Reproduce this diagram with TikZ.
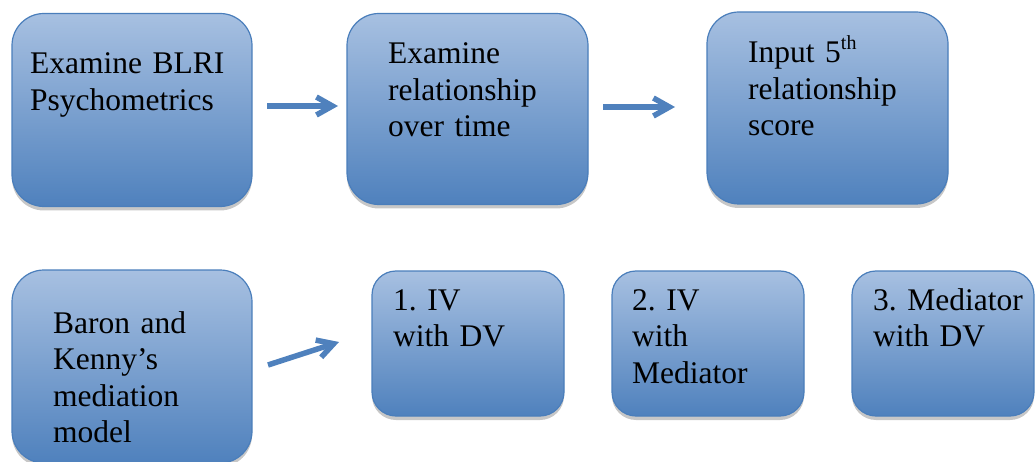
\documentclass[tikz,border=0pt]{standalone}
\usepackage{fontspec}
\setmainfont{Liberation Serif}
\usetikzlibrary{arrows.meta,shadows}
\definecolor{boxtop}{RGB}{167,192,225}
\definecolor{boxbot}{RGB}{79,129,189}
\definecolor{boxline}{RGB}{74,126,187}
\definecolor{arrowcol}{RGB}{79,129,189}
\frenchspacing
\newcommand{\supth}{\raisebox{13pt}{\fontsize{20}{20}\selectfont th}}
\tikzset{
  bigbox/.style={draw=boxline, line width=1.2pt, rounded corners=32pt,
    top color=boxtop, bottom color=boxbot, inner sep=0pt,
    drop shadow={shadow xshift=0pt, shadow yshift=-4pt, opacity=0.22, fill=black}},
  smallbox/.style={bigbox, rounded corners=24pt},
  txt/.style={anchor=base west, inner sep=0pt, text width=230pt, align=left,
    font=\fontsize{31.5}{36.5}\selectfont\frenchspacing},
  flow/.style={draw=arrowcol, line width=5.5pt,
    -{Straight Barb[length=16pt,width=18pt]}}
}
\begin{document}
\begin{tikzpicture}[x=1pt,y=-1pt]
\useasboundingbox (0,0) rectangle (1035,462);
% top row
\node[bigbox, minimum width=240pt, minimum height=193pt] (b1) at (132,110) {};
\node[bigbox, minimum width=241pt, minimum height=191pt] (b2) at (467.5,109) {};
\node[bigbox, minimum width=241pt, minimum height=192pt] (b3) at (827.5,108) {};
% bottom row
\node[bigbox, minimum width=240pt, minimum height=193pt] (b4) at (132,366.5) {};
\node[smallbox, minimum width=192pt, minimum height=145pt] (b5) at (468,343.5) {};
\node[smallbox, minimum width=192pt, minimum height=145pt] (b6) at (708,343.5) {};
\node[smallbox, minimum width=182pt, minimum height=145pt] (b7) at (943,343.5) {};
% texts
\node[txt] (t1) at (30,74) {Examine BLRI\\Psychometrics};
\node[txt] (t2) at (388,64) {Examine\\relationship\\over time};
\node[txt] (t3) at (748,63) {Input 5\supth\\relationship\\score};
\node[txt] (t4) at (53,333) {Baron and\\Kenny’s\\mediation\\model};
\node[txt] (t5) at (393,310) {1. IV\\with DV};
\node[txt] (t6) at (632,310) {2. IV\\with\\Mediator};
\node[txt] (t7) at (873,310) {3. Mediator\\with DV};
% arrows
\coordinate (a1s) at (267,106);
\coordinate (a1e) at (338,106);
\coordinate (a2s) at (603,107);
\coordinate (a2e) at (675,107);
\coordinate (a3s) at (268,365);
\coordinate (a3e) at (339,342);
\draw[flow] (a1s) -- (a1e);
\draw[flow] (a2s) -- (a2e);
\draw[flow] (a3s) -- (a3e);
\end{tikzpicture}
\end{document}
